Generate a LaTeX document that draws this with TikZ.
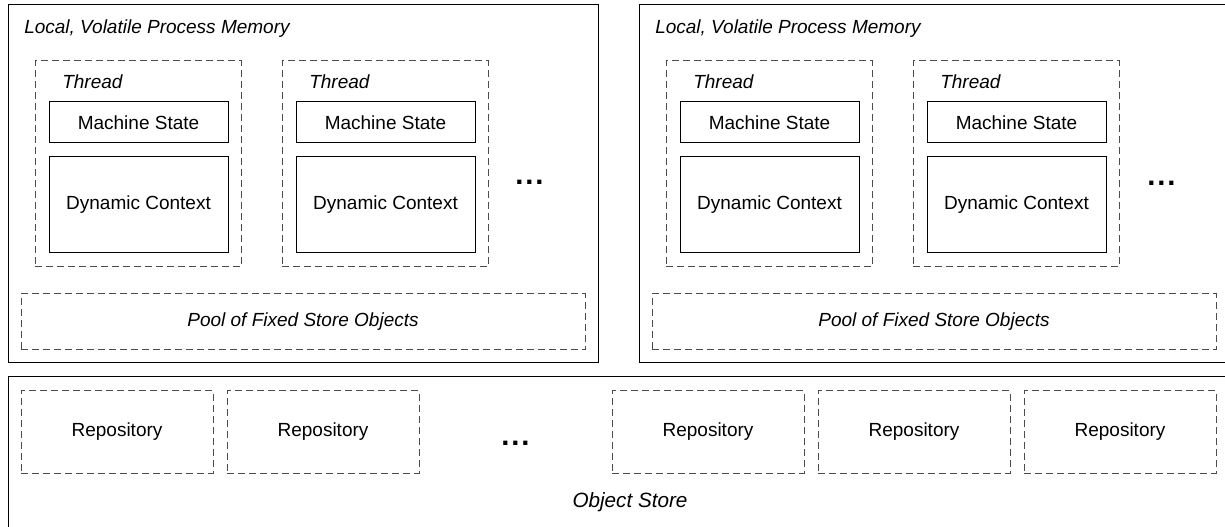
\documentclass[tikz,border=0pt]{standalone}
\usepackage{fontspec}
\setmainfont{Liberation Sans}
\usepackage{tikz}

\begin{document}
\begin{tikzpicture}[x=0.75pt, y=-0.75pt,
  solidbox/.style={draw, line width=0.75pt, inner sep=0pt},
  dashbox/.style={draw=black!70, line width=0.75pt, dash pattern=on 5.25pt off 3pt, inner sep=0pt},
  txt/.style={font=\fontsize{14.25}{16}\selectfont},
  itxt/.style={font=\fontsize{14.25}{16}\selectfont\itshape, inner sep=0pt},
  dots/.style={font=\fontsize{22}{24}\selectfont\bfseries, inner sep=0pt}]

\path[use as bounding box, clip] (0,0) rectangle (1225,527);

% process memories
\node[solidbox, minimum width=442.5pt, minimum height=268.5pt] (memL) at (303,184) {};
\node[solidbox, minimum width=442.5pt, minimum height=268.5pt] (memR) at (934,184) {};
\node[itxt, anchor=base west] (memLtitle) at (24,34) {Local, Volatile Process Memory};
\node[itxt, anchor=base west] (memRtitle) at (655,34) {Local, Volatile Process Memory};

% threads
\node[dashbox, minimum width=154.5pt, minimum height=154.5pt] (t1) at (138,164) {};
\node[dashbox, minimum width=154.5pt, minimum height=154.5pt] (t2) at (385,164) {};
\node[dashbox, minimum width=154.5pt, minimum height=154.5pt] (t3) at (769,164) {};
\node[dashbox, minimum width=154.5pt, minimum height=154.5pt] (t4) at (1016,164) {};

\node[itxt, anchor=base west] (t1lab) at (62,89) {Thread};
\node[itxt, anchor=base west] (t2lab) at (309,89) {Thread};
\node[itxt, anchor=base west] (t3lab) at (693,89) {Thread};
\node[itxt, anchor=base west] (t4lab) at (940,89) {Thread};

\node[solidbox, txt, minimum width=134.25pt, minimum height=30.75pt] (ms1) at (138.5,122.5) {Machine State};
\node[solidbox, txt, minimum width=134.25pt, minimum height=30.75pt] (ms2) at (385.5,122.5) {Machine State};
\node[solidbox, txt, minimum width=134.25pt, minimum height=30.75pt] (ms3) at (769.5,122.5) {Machine State};
\node[solidbox, txt, minimum width=134.25pt, minimum height=30.75pt] (ms4) at (1016.5,122.5) {Machine State};

\node[solidbox, txt, minimum width=134.25pt, minimum height=72pt] (dc1) at (138.5,205) {Dynamic Context};
\node[solidbox, txt, minimum width=134.25pt, minimum height=72pt] (dc2) at (385.5,205) {Dynamic Context};
\node[solidbox, txt, minimum width=134.25pt, minimum height=72pt] (dc3) at (769.5,205) {Dynamic Context};
\node[solidbox, txt, minimum width=134.25pt, minimum height=72pt] (dc4) at (1016.5,205) {Dynamic Context};

\node[dots] (tdotsL) at (529.5,182) {.\kern1.4pt.\kern1.4pt.};
\node[dots] (tdotsR) at (1161.5,183) {.\kern1.4pt.\kern1.4pt.};

% pools
\node[dashbox, itxt, minimum width=423pt, minimum height=42pt] (poolL) at (303,322) {Pool of Fixed Store Objects};
\node[dashbox, itxt, minimum width=423pt, minimum height=42pt] (poolR) at (934,322) {Pool of Fixed Store Objects};

% object store
\node[solidbox, minimum width=915.75pt, minimum height=137.25pt] (store) at (618.5,468.5) {};
\node[dashbox, txt, minimum width=144pt, minimum height=61.5pt] (r1) at (117,432) {Repository};
\node[dashbox, txt, minimum width=144pt, minimum height=61.5pt] (r2) at (323,432) {Repository};
\node[dashbox, txt, minimum width=144pt, minimum height=61.5pt] (r3) at (708,432) {Repository};
\node[dashbox, txt, minimum width=144pt, minimum height=61.5pt] (r4) at (914,432) {Repository};
\node[dashbox, txt, minimum width=144pt, minimum height=61.5pt] (r5) at (1120,432) {Repository};
\node[dots] (rdots) at (515.5,443) {.\kern1.4pt.\kern1.4pt.};
\node[font=\fontsize{15.5}{18}\selectfont\itshape, inner sep=0pt, anchor=base] (storelab) at (630,507.5) {Object Store};

\end{tikzpicture}
\end{document}
